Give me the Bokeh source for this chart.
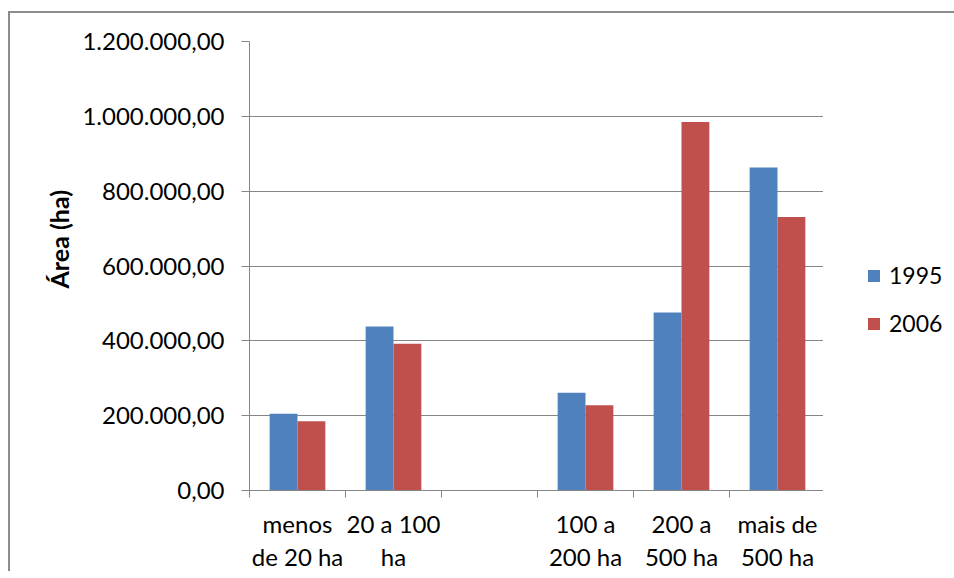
from bokeh.plotting import figure
from bokeh.layouts import row
from bokeh.models import Range1d, FixedTicker, Legend, LegendItem, Title, ColumnDataSource
from bokeh.transform import dodge
from bokeh.embed import file_html
from bokeh.resources import INLINE

# Area by farm size class, 1995 vs 2006
categories = ["menos\nde 20 ha", "20 a 100\nha", "", "100 a\n200 ha", "200 a\n500 ha", "mais de\n500 ha"]
area_1995 = [205000, 438000, None, 261000, 476000, 863000]
area_2006 = [185000, 392000, None, 228000, 985000, 731000]
series_names = ["1995", "2006"]
y_ticks = [0, 200000, 400000, 600000, 800000, 1000000, 1200000]

FONT = "Lato"
FS = "24px"
GRID = "#868686"
BORDER = "#8c8c8c"
BLUE = "#4F81BD"
RED = "#C0504D"
COLORS = [BLUE, RED]

FRAME_H = 447
TOP = 28


def br_number(v):
    s = f"{v:,.2f}"
    return s.replace(",", "X").replace(".", ",").replace("X", ".")


centers = [i + 0.5 for i in range(len(categories))]
bounds = [float(i) for i in range(len(categories) + 1)]

src = ColumnDataSource(data=dict(x=centers, a1995=area_1995, a2006=area_2006))

# main chart
p = figure(
    frame_width=574, frame_height=FRAME_H,
    x_range=Range1d(0, len(categories)),
    y_range=Range1d(0, y_ticks[-1]),
    output_backend="svg", toolbar_location=None,
    min_border_left=239, min_border_right=0,
    min_border_top=TOP, min_border_bottom=60,
    styles={"margin-left": "8px", "margin-top": "11px",
            "border-left": f"2px solid {BORDER}", "border-top": f"2px solid {BORDER}"},
)
p.outline_line_color = None
p.xgrid.grid_line_color = None
p.ygrid.grid_line_color = GRID
p.ygrid.grid_line_width = 1

bw = 0.29
p.vbar(x=dodge("x", -bw / 2, range=p.x_range), top="a1995", width=bw,
       source=src, fill_color=BLUE, line_color=None)
p.vbar(x=dodge("x", bw / 2, range=p.x_range), top="a2006", width=bw,
       source=src, fill_color=RED, line_color=None)

# x axis: tick marks on category boundaries, labels centred between them
xa = p.xaxis[0]
xa.ticker = FixedTicker(ticks=centers, minor_ticks=bounds)
xa.major_label_overrides = {c: lab for c, lab in zip(centers, categories)}
xa.major_tick_out = 0
xa.major_tick_in = 0
xa.minor_tick_out = 7
xa.minor_tick_in = 0
xa.minor_tick_line_color = GRID
xa.axis_line_color = GRID
xa.major_label_text_font = FONT
xa.major_label_text_font_size = FS
xa.major_label_text_color = "#000000"
xa.major_label_text_line_height = 1.15
xa.major_label_standoff = 11

# y axis
ya = p.yaxis[0]
ya.ticker = FixedTicker(ticks=y_ticks)
ya.major_label_overrides = {t: br_number(t) for t in y_ticks}
ya.major_tick_out = 8
ya.major_tick_in = 0
ya.minor_tick_out = 0
ya.minor_tick_in = 0
ya.major_tick_line_color = GRID
ya.axis_line_color = GRID
ya.major_label_text_font = FONT
ya.major_label_text_font_size = FS
ya.major_label_text_color = "#000000"
ya.major_label_standoff = 17

# vertical axis title
p.add_layout(Title(text="Área (ha)", align="left", offset=202, standoff=11,
                   text_font=FONT, text_font_size="25px", text_font_style="bold",
                   text_color="#000000"), "left")

# legend panel to the right of the chart, frame level with the chart's frame
q = figure(
    frame_width=131, frame_height=FRAME_H,
    x_range=Range1d(0, 1), y_range=Range1d(0, 1),
    x_axis_type=None, y_axis_type=None,
    output_backend="svg", toolbar_location=None,
    min_border_left=0, min_border_top=TOP, min_border_right=0, min_border_bottom=0,
    styles={"margin-top": "11px", "border-top": f"2px solid {BORDER}"},
)
q.outline_line_color = None
q.xgrid.grid_line_color = None
q.ygrid.grid_line_color = None

# zero-height swatch renderers placed off the visible range, used only by the legend
swatches = [q.vbar(x=[5], top=[0], width=0.1, fill_color=c, line_color=None) for c in COLORS]

legend = Legend(
    items=[LegendItem(label=name, renderers=[r]) for name, r in zip(series_names, swatches)],
    location=(43, 153),
    glyph_width=15, glyph_height=15, label_standoff=8,
    label_text_font=FONT, label_text_font_size="23px", label_text_color="#000000",
    label_height=23, spacing=20, padding=0, margin=0,
    border_line_color=None, background_fill_alpha=0,
)
q.add_layout(legend)

layout = row(p, q, spacing=0)
open("out.html", "w").write(file_html(layout, INLINE))
